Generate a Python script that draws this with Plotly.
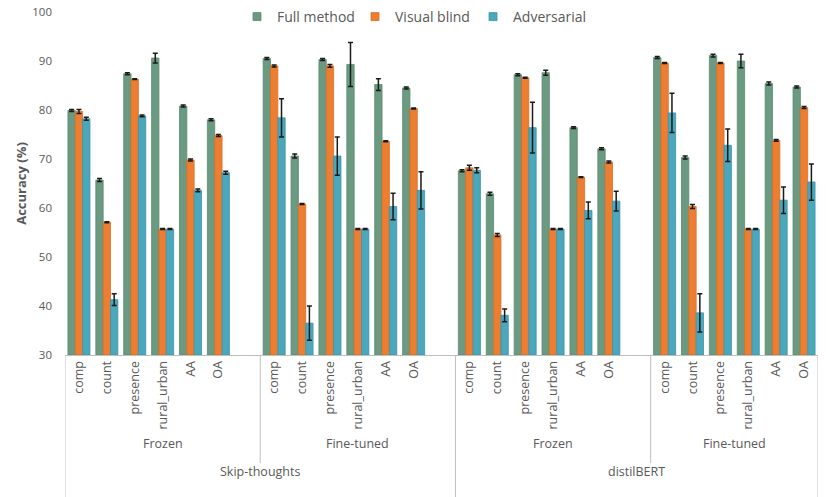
import plotly.graph_objects as go

# ---- data ----
models = ["Skip-thoughts", "distilBERT"]
settings = ["Frozen", "Fine-tuned"]
categories = ["comp", "count", "presence", "rural_urban", "AA", "OA"]
series_names = ["Full method", "Visual blind", "Adversarial"]

# values per group (ST-Frozen, ST-Fine-tuned, dB-Frozen, dB-Fine-tuned), each 6 categories
full_method = [
    [79.9, 65.7, 87.4, 90.6, 80.8, 78.0],
    [90.5, 70.6, 90.3, 89.3, 85.2, 84.5],
    [67.6, 62.9, 87.2, 87.6, 76.4, 72.1],
    [90.7, 70.3, 91.1, 90.0, 85.4, 84.7],
]
full_method_err = [
    [0.2, 0.3, 0.2, 1.0, 0.2, 0.2],
    [0.2, 0.4, 0.2, 4.5, 1.2, 0.2],
    [0.2, 0.3, 0.2, 0.5, 0.2, 0.2],
    [0.2, 0.3, 0.3, 1.4, 0.3, 0.2],
]
visual_blind = [
    [79.7, 57.1, 86.3, 55.7, 69.8, 74.8],
    [89.0, 60.8, 89.0, 55.7, 73.6, 80.3],
    [68.2, 54.5, 86.6, 55.7, 66.3, 69.4],
    [89.6, 60.3, 89.6, 55.7, 73.8, 80.5],
]
visual_blind_err = [
    [0.4, 0.1, 0.1, 0.1, 0.2, 0.2],
    [0.2, 0.1, 0.3, 0.1, 0.1, 0.1],
    [0.5, 0.3, 0.1, 0.1, 0.1, 0.2],
    [0.1, 0.4, 0.1, 0.1, 0.2, 0.2],
]
adversarial = [
    [78.2, 41.3, 78.8, 55.7, 63.6, 67.2],
    [78.4, 36.5, 70.6, 55.7, 60.3, 63.6],
    [67.7, 38.1, 76.4, 55.7, 59.5, 61.4],
    [79.4, 38.6, 72.8, 55.7, 61.6, 65.3],
]
adversarial_err = [
    [0.3, 1.2, 0.2, 0.1, 0.3, 0.3],
    [3.9, 3.5, 3.9, 0.1, 2.7, 3.8],
    [0.5, 1.3, 5.2, 0.1, 1.7, 2.0],
    [4.0, 3.9, 3.3, 0.1, 2.7, 3.7],
]

colors = ["#6B9A82", "#ED7D31", "#4BA7BC"]
line_colors = ["#5B8A6E", "#D96E26", "#3A93A8"]
label_color = "#595959"
font_family = "Open Sans"

# ---- build category slots (6 categories + one empty slot between groups) ----
groups = [(m, s) for m in models for s in settings]
x_keys, tick_vals, tick_text = [], [], []
group_ranges = []
for gi, (m, s) in enumerate(groups):
    start = len(x_keys)
    for c in categories:
        key = f"{m}|{s}|{c}"
        x_keys.append(key)
        tick_vals.append(key)
        tick_text.append(c)
    if gi < len(groups) - 1:
        x_keys.append(f"gap{gi}")
    group_ranges.append((start - 0.5, start + len(categories) - 0.5 + (1 if gi < len(groups) - 1 else 0)))

def flatten(vals):
    out = []
    for gi, g in enumerate(vals):
        out.extend(g)
        if gi < len(vals) - 1:
            out.append(None)
    return out

fig = go.Figure()
for name, vals, errs, col, lc in zip(
    series_names,
    [full_method, visual_blind, adversarial],
    [full_method_err, visual_blind_err, adversarial_err],
    colors, line_colors,
):
    fig.add_trace(go.Bar(
        name=name, x=x_keys, y=[v - 30 if v is not None else None for v in flatten(vals)],
        base=30, showlegend=False,
        marker=dict(color=col, line=dict(color=lc, width=0.8)),
        error_y=dict(type="data", array=flatten(errs), color="#1a1a1a", thickness=1.5, width=2.5),
        hoverinfo="skip",
    ))
# legend entries with small square swatches
for name, col, lc in zip(series_names, colors, line_colors):
    fig.add_trace(go.Scatter(
        name=name, x=[None], y=[None], mode="markers",
        marker=dict(symbol="square", size=8, color=col, line=dict(color=lc, width=0.8)),
        hoverinfo="skip",
    ))

# the page margin is removed (see post_script), so the figure fills the window
W, H = 830, 497
M_L, M_T, M_R, M_B = 65, 12, 12, 142
plot_h = H - M_T - M_B
plot_w = W - M_L - M_R

shapes = []
annotations = []
def py(px):  # pixels below axis -> paper
    return -px / plot_h

# vertical separator lines
for gi, (x0, x1) in enumerate(group_ranges):
    if gi == 0:
        shapes.append(dict(type="line", xref="x", yref="paper", x0=x0, x1=x0, y0=0, y1=py(142),
                           line=dict(color="#BFBFBF", width=1)))
    end_full = (gi % len(settings) == len(settings) - 1)
    shapes.append(dict(type="line", xref="x", yref="paper", x0=x1, x1=x1, y0=0,
                       y1=py(142) if end_full else py(108),
                       line=dict(color="#BFBFBF", width=1)))
    annotations.append(dict(text=groups[gi][1], x=(x0 + x1) / 2, xref="x", y=py(99), yref="paper",
                            showarrow=False, font=dict(size=12.5, color=label_color, family=font_family)))

for mi, m in enumerate(models):
    r = group_ranges[mi * len(settings):(mi + 1) * len(settings)]
    cx = (r[0][0] + r[-1][1]) / 2
    annotations.append(dict(text=m, x=cx, xref="x", y=py(127), yref="paper",
                            showarrow=False, font=dict(size=12.5, color=label_color, family=font_family)))

fig.update_layout(
    width=W, height=H,
    margin=dict(l=M_L, r=M_R, t=M_T, b=M_B, autoexpand=False),
    paper_bgcolor="white", plot_bgcolor="white",
    barmode="group", bargap=0.21, bargroupgap=0,
    font=dict(family=font_family, color=label_color, size=11),
    legend=dict(orientation="h", x=(414 - M_L) / plot_w, xanchor="center",
                y=1 - 5 / plot_h, yanchor="middle",
                font=dict(size=14, color=label_color), itemwidth=30,
                entrywidth=73, entrywidthmode="pixels",
                traceorder="normal", bgcolor="rgba(0,0,0,0)"),
    xaxis=dict(type="category", categoryorder="array", categoryarray=x_keys,
               tickmode="array", tickvals=tick_vals, ticktext=tick_text, tickangle=-90,
               tickfont=dict(size=12.5, color=label_color), showline=True, linecolor="#BFBFBF",
               linewidth=1, ticks="", showgrid=False, range=[-0.5, len(x_keys) - 0.5],
               automargin=False),
    yaxis=dict(range=[30, 100], dtick=10, showgrid=False, zeroline=False, showline=False,
               ticks="", ticklabelstandoff=12, tickfont=dict(size=11.5, color=label_color),
               automargin=False, ticklabeloverflow="allow",
               title=dict(text="<b>Accuracy (%)</b>", font=dict(size=13, color=label_color), standoff=2)),
    shapes=shapes, annotations=annotations,
)

fig.write_html(
    "out.html",
    config={"displayModeBar": False},
    post_script="document.body.style.margin='0';document.body.style.overflow='hidden';",
)
